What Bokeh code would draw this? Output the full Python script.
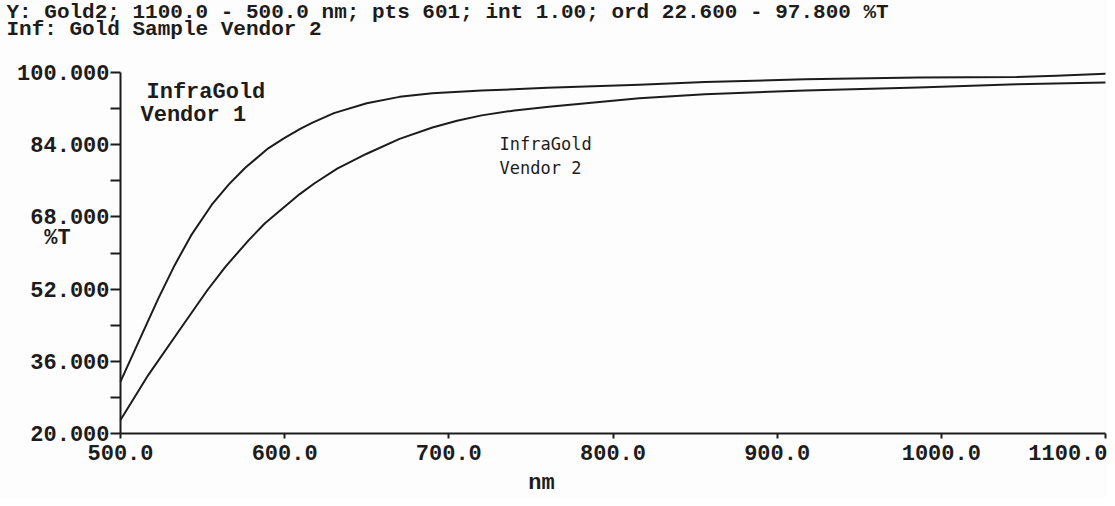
from bokeh.plotting import figure
from bokeh.models import Range1d, FixedTicker, NumeralTickFormatter, Label, LinearAxis
from bokeh.embed import file_html
from bokeh.resources import INLINE

# ---- data ----
wl_vendor1 = [500, 513, 523, 533, 543, 556, 566, 576, 590, 600, 610, 617, 630,
              650, 670, 690, 720, 760, 816, 856, 917, 986, 1046, 1070, 1100]
t_vendor1 = [31.5, 41.9, 49.9, 57.3, 63.9, 70.9, 75.2, 78.9, 83.2, 85.5, 87.6,
             88.9, 91.0, 93.2, 94.6, 95.4, 96.0, 96.6, 97.3, 97.9, 98.5, 98.9,
             99.0, 99.3, 99.7]

wl_vendor2 = [500, 517, 538, 553, 564, 578, 588, 609, 618, 632, 650, 670, 690,
              705, 720, 740, 761, 816, 856, 917, 986, 1046, 1100]
t_vendor2 = [23.0, 33.0, 44.0, 51.8, 57.0, 62.8, 66.6, 73.0, 75.4, 78.7, 82.0,
             85.3, 87.8, 89.3, 90.5, 91.6, 92.4, 94.3, 95.2, 96.0, 96.7, 97.4,
             97.8]

x_ticks = [500, 600, 700, 800, 900, 1000, 1100]
y_ticks = [20, 36, 52, 68, 84, 100]
y_minor = [28, 44, 60, 76, 92]
x_min, x_max = 500, 1100
y_min, y_max = 20, 100

header_line1 = "Y: Gold2; 1100.0 - 500.0 nm; pts 601; int 1.00; ord 22.600 - 97.800 %T"
header_line2 = "Inf: Gold Sample Vendor 2"
y_unit = "%T"
x_unit = "nm"
label_v1 = ["InfraGold", "Vendor 1"]
label_v2 = ["InfraGold", "Vendor 2"]

# ---- layout (pixels on the canvas) ----
W, H = 1107, 498
PX_LEFT, PX_RIGHT = 120, 1105      # where x_min / x_max fall
PX_TOP, PX_BOTTOM = 72, 433        # where y_max / y_min fall
kx = (PX_RIGHT - PX_LEFT) / (x_max - x_min)
ky = (PX_BOTTOM - PX_TOP) / (y_max - y_min)

def dx(px):
    return x_min + (px - PX_LEFT) / kx

def dy(py):
    return y_min + (PX_BOTTOM - py) / ky

FONT = "Liberation Mono"
INK = "#1c1c1c"
BG = "#fdfdfd"

p = figure(width=W, height=H, output_backend="svg", toolbar_location=None,
           x_range=Range1d(dx(0), dx(W)), y_range=Range1d(dy(H), dy(0)),
           x_axis_type=None, y_axis_type=None, min_border=0)
p.background_fill_color = BG
p.border_fill_color = BG
p.outline_line_color = None

xax = LinearAxis(fixed_location=y_min, bounds=(x_min, x_max),
                 ticker=FixedTicker(ticks=x_ticks),
                 formatter=NumeralTickFormatter(format="0.0"))
yax = LinearAxis(fixed_location=x_min, bounds=(y_min, y_max),
                 ticker=FixedTicker(ticks=y_ticks, minor_ticks=y_minor),
                 formatter=NumeralTickFormatter(format="0.000"))

for ax in (xax, yax):
    ax.axis_line_width = 2
    ax.axis_line_color = INK
    ax.major_tick_line_width = 2
    ax.major_tick_line_color = INK
    ax.minor_tick_line_width = 2
    ax.minor_tick_line_color = INK
    ax.major_tick_in = 0
    ax.minor_tick_in = 0
    ax.major_label_text_font = FONT
    ax.major_label_text_font_size = "22px"
    ax.major_label_text_font_style = "bold"
    ax.major_label_text_color = INK

xax.major_tick_out = 5
xax.minor_tick_out = 0
xax.minor_tick_line_color = None
xax.major_label_standoff = 6
yax.major_tick_out = 10
yax.minor_tick_out = 10
yax.major_label_standoff = 1

p.add_layout(xax, "below")
p.add_layout(yax, "left")

p.line(wl_vendor1, t_vendor1, line_color=INK, line_width=2, line_join="round")
p.line(wl_vendor2, t_vendor2, line_color=INK, line_width=2, line_join="round")

def lab(text, px, py, size="22px", font=FONT, style="bold", align="left"):
    p.add_layout(Label(x=dx(px), y=dy(py), text=text,
                       text_font=font, text_font_size=size,
                       text_font_style=style, text_color=INK,
                       text_align=align, text_baseline="middle"))

lab(header_line1, 6, 12, size="21px")
lab(header_line2, 6, 29, size="21px")
lab(y_unit, 57, 238, align="center")
lab(x_unit, 541, 483, align="center")

lab(label_v1[0], 146, 92)
lab(label_v1[1], 140, 115)
lab(label_v2[0], 499, 143, size="17px", font="DejaVu Sans Mono", style="normal")
lab(label_v2[1], 499, 167, size="17px", font="DejaVu Sans Mono", style="normal")

open("out.html", "w").write(file_html(p, INLINE))
